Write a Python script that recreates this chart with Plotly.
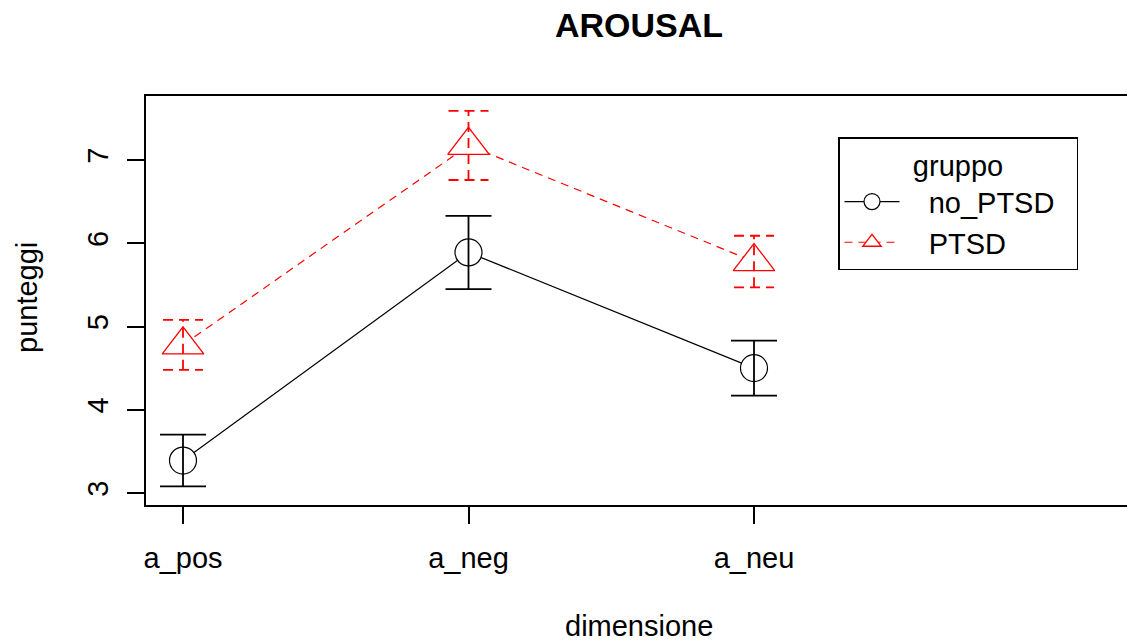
import plotly.graph_objects as go

categories = ["a_pos", "a_neg", "a_neu"]
groups = ["no_PTSD", "PTSD"]
no_ptsd_mean = [3.39, 5.89, 4.50]
no_ptsd_err = [0.31, 0.44, 0.33]
ptsd_mean = [4.78, 7.175, 5.78]
ptsd_err = [0.30, 0.415, 0.31]
y_ticks = [3, 4, 5, 6, 7]

FONT = "Liberation Sans, Arial, sans-serif"
FS = 29
xpos = list(range(1, len(categories) + 1))
NB = "\u00a0"

fig = go.Figure()

# no_PTSD line + markers
fig.add_trace(go.Scatter(
    x=xpos, y=no_ptsd_mean, mode="lines+markers", name=NB * 3 + groups[0] + NB * 2,
    line=dict(color="black", width=1.2),
    marker=dict(symbol="circle", size=27, color="white",
                line=dict(color="black", width=1.2)),
))
# no_PTSD error bars
fig.add_trace(go.Scatter(
    x=xpos, y=no_ptsd_mean, mode="markers", showlegend=False,
    marker=dict(size=1, opacity=0, color="black"),
    error_y=dict(type="data", array=no_ptsd_err, visible=True,
                 color="black", thickness=1.8, width=23),
    hoverinfo="skip",
))
# PTSD line + markers
fig.add_trace(go.Scatter(
    x=xpos, y=ptsd_mean, mode="lines+markers", name=NB * 3 + groups[1],
    line=dict(color="red", width=1.2, dash="8px,6px"),
    marker=dict(symbol="triangle-up", size=36, color="white",
                line=dict(color="red", width=1.3)),
))
# PTSD dashed error bars built from data
cap = 0.07
ex, ey = [], []
for xi, m, e in zip(xpos, ptsd_mean, ptsd_err):
    ex += [xi, xi, None, xi - cap, xi + cap, None, xi - cap, xi + cap, None]
    ey += [m - e, m + e, None, m + e, m + e, None, m - e, m - e, None]
fig.add_trace(go.Scatter(
    x=ex, y=ey, mode="lines", showlegend=False, hoverinfo="skip",
    line=dict(color="red", width=1.8, dash="10px,6px"),
))

W, H = 1127, 644
L, T, B = 146, 96, 139
plot_w = W - L
plot_h = H - T - B
unit = 285.5
x0 = 1 - 37 / unit
x1 = x0 + plot_w / unit

def px_x(p):
    return (p - L) / plot_w

def px_y(p):
    return (H - B - p) / plot_h

fig.update_layout(
    width=W, height=H,
    margin=dict(l=L, r=0, t=T, b=B, pad=0),
    paper_bgcolor="white", plot_bgcolor="white",
    font=dict(family=FONT, size=FS, color="black"),
    showlegend=True,
    legend=dict(
        x=px_x(838), y=px_y(137),
        xanchor="left", yanchor="top",
        bordercolor="black", borderwidth=1.5, bgcolor="white",
        title=dict(text="gruppo", side="top center", font=dict(size=FS)),
        font=dict(size=FS), itemwidth=55,
        tracegroupgap=0,
    ),
    xaxis=dict(
        range=[x0, x1], tickmode="array", tickvals=xpos, ticktext=categories,
        showgrid=False, zeroline=False,
        showline=True, linecolor="black", linewidth=1.5, mirror=True,
        ticks="outside", ticklen=17, tickwidth=1.5, tickcolor="black",
        tickfont=dict(size=FS), ticklabelstandoff=9,
    ),
    yaxis=dict(
        range=[3 - 12 / 83.25, 7 + 64 / 83.25], tickmode="array", tickvals=y_ticks,
        showgrid=False, zeroline=False,
        showline=True, linecolor="black", linewidth=1.5, mirror=False,
        ticks="outside", ticklen=17, tickwidth=1.5, tickcolor="black",
        tickangle=-90, tickfont=dict(size=FS), ticklabelstandoff=8,
    ),
    annotations=[
        dict(text="<b>AROUSAL</b>", x=px_x(639), y=px_y(25), xref="paper", yref="paper",
             xanchor="center", yanchor="middle", showarrow=False, font=dict(size=34)),
        dict(text="dimensione", x=px_x(639), y=px_y(626), xref="paper", yref="paper",
             xanchor="center", yanchor="middle", showarrow=False, font=dict(size=FS)),
        dict(text="punteggi", x=px_x(27), y=px_y(298), xref="paper", yref="paper",
             xanchor="center", yanchor="middle", textangle=-90, showarrow=False,
             font=dict(size=FS)),
    ],
)

fig.write_html("out.html", config={"displayModeBar": False},
               post_script="document.body.style.margin='0px';")
